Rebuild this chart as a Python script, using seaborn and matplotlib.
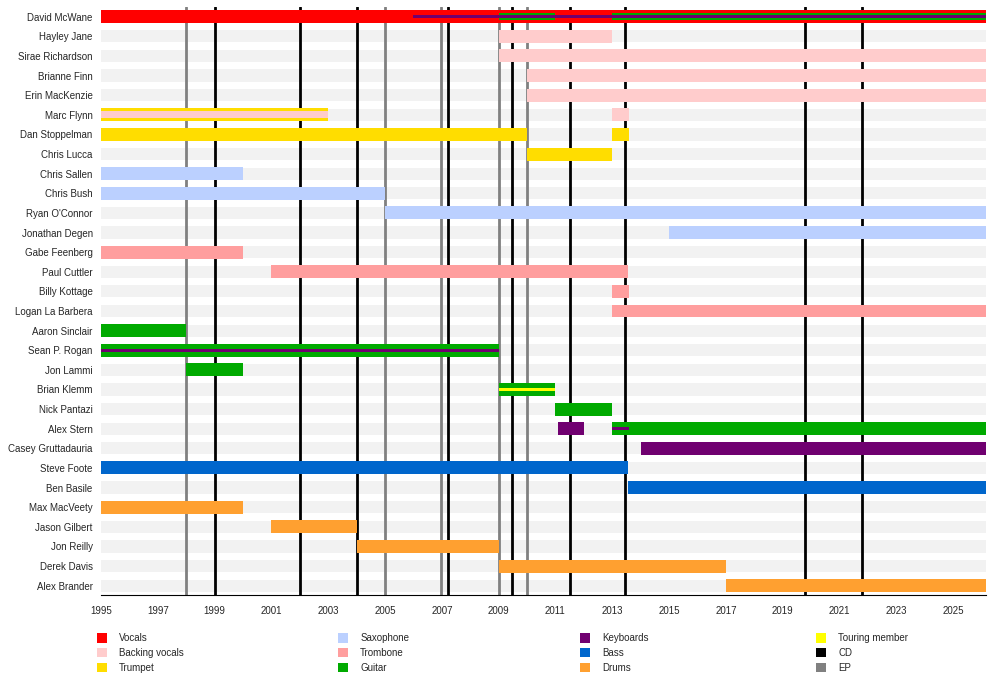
import matplotlib
matplotlib.use("Agg")
import matplotlib.pyplot as plt
import seaborn as sns
from matplotlib.patches import Patch

sns.set_style("white")
plt.rcParams['font.family'] = ['Liberation Sans', 'DejaVu Sans']

END = 2026.16

members = ["David McWane", "Hayley Jane", "Sirae Richardson", "Brianne Finn", "Erin MacKenzie",
           "Marc Flynn", "Dan Stoppelman", "Chris Lucca", "Chris Sallen", "Chris Bush",
           "Ryan O'Connor", "Jonathan Degen", "Gabe Feenberg", "Paul Cuttler", "Billy Kottage",
           "Logan La Barbera", "Aaron Sinclair", "Sean P. Rogan", "Jon Lammi", "Brian Klemm",
           "Nick Pantazi", "Alex Stern", "Casey Gruttadauria", "Steve Foote", "Ben Basile",
           "Max MacVeety", "Jason Gilbert", "Jon Reilly", "Derek Davis", "Alex Brander"]

# periods: member, role, start, end, layer (full / mid / thin)
bar_member = ["David McWane", "David McWane", "David McWane", "David McWane", "David McWane",
              "Hayley Jane", "Sirae Richardson", "Brianne Finn", "Erin MacKenzie",
              "Marc Flynn", "Marc Flynn", "Marc Flynn",
              "Dan Stoppelman", "Dan Stoppelman", "Chris Lucca",
              "Chris Sallen", "Chris Bush", "Ryan O'Connor", "Jonathan Degen",
              "Gabe Feenberg", "Paul Cuttler", "Billy Kottage", "Logan La Barbera",
              "Aaron Sinclair", "Sean P. Rogan", "Sean P. Rogan", "Jon Lammi",
              "Brian Klemm", "Brian Klemm", "Nick Pantazi",
              "Alex Stern", "Alex Stern", "Alex Stern", "Casey Gruttadauria",
              "Steve Foote", "Ben Basile",
              "Max MacVeety", "Jason Gilbert", "Jon Reilly", "Derek Davis", "Alex Brander"]
bar_role = ["Vocals", "Guitar", "Guitar", "Keyboards", "Keyboards",
            "Backing vocals", "Backing vocals", "Backing vocals", "Backing vocals",
            "Trumpet", "Backing vocals", "Backing vocals",
            "Trumpet", "Trumpet", "Trumpet",
            "Saxophone", "Saxophone", "Saxophone", "Saxophone",
            "Trombone", "Trombone", "Trombone", "Trombone",
            "Guitar", "Guitar", "Keyboards", "Guitar",
            "Guitar", "Touring member", "Guitar",
            "Keyboards", "Guitar", "Keyboards", "Keyboards",
            "Bass", "Bass",
            "Drums", "Drums", "Drums", "Drums", "Drums"]
bar_start = [1995, 2009, 2013, 2006, 2006,
             2009, 2009, 2010, 2010,
             1995, 1995, 2013,
             1995, 2013, 2010,
             1995, 1995, 2005, 2015,
             1995, 2001, 2013, 2013,
             1995, 1995, 1995, 1998,
             2009, 2009, 2011,
             2011.1, 2013, 2013, 2014,
             1995, 2013.55,
             1995, 2001, 2004, 2009, 2017]
bar_end = [END, 2011, END, 2009, END,
           2013, END, END, END,
           2003, 2003, 2013.6,
           2010, 2013.6, 2013,
           2000, 2005, END, END,
           2000, 2013.55, 2013.6, END,
           1998, 2009, 2009, 2000,
           2011, 2011, 2013,
           2012, END, 2013.6, END,
           2013.55, END,
           2000, 2004, 2009, 2017, END]
bar_layer = ["full", "mid", "mid", "thin", "thin",
             "full", "full", "full", "full",
             "full", "mid", "full",
             "full", "full", "full",
             "full", "full", "full", "full",
             "full", "full", "full", "full",
             "full", "full", "thin", "full",
             "full", "thin", "full",
             "full", "full", "thin", "full",
             "full", "full",
             "full", "full", "full", "full", "full"]

cd_years = [1999, 2002, 2004, 2007.2, 2009.47, 2011.5, 2013.45, 2019.8, 2021.8]
ep_years = [1998, 2005, 2006.97, 2009, 2010]

colors = {"Vocals": "#FF0000", "Backing vocals": "#FFCCCC", "Trumpet": "#FFDD00",
          "Saxophone": "#BBD0FF", "Trombone": "#FF9E9E", "Guitar": "#00AA00",
          "Keyboards": "#700070", "Bass": "#0066CC", "Drums": "#FFA030",
          "Touring member": "#FFFF00", "CD": "#000000", "EP": "#808080"}
heights = {"full": 0.66, "mid": 0.36, "thin": 0.16}

fig = plt.figure(figsize=(10, 6.9), dpi=100)
ax = fig.add_axes([0.101, 0.137, 0.885, 0.853])

ypos = {m: i for i, m in enumerate(members)}
# row stripes
ax.barh(range(len(members)), END - 1995, left=1995, height=0.62, color="#F2F2F2",
        linewidth=0, zorder=0)

for x in cd_years:
    ax.axvline(x, color=colors["CD"], lw=2, zorder=1)
for x in ep_years:
    ax.axvline(x, color=colors["EP"], lw=2, zorder=1)

order = {"full": 2, "mid": 3, "thin": 4}
for m, r, s, e, l in zip(bar_member, bar_role, bar_start, bar_end, bar_layer):
    ax.barh(ypos[m], e - s, left=s, height=heights[l], color=colors[r],
            linewidth=0, zorder=order[l])

ax.set_xlim(1995, END)
ax.set_ylim(len(members) - 0.5, -0.5)
ax.set_yticks(range(len(members)))
ax.set_yticklabels(members, fontsize=7)
ax.set_xticks(range(1995, 2026, 2))
ax.tick_params(axis='x', labelsize=7, length=4, color="black", direction="out")
ax.tick_params(axis='y', length=0, pad=6)
for s in ["top", "right"]:
    ax.spines[s].set_visible(False)
ax.spines["left"].set_visible(False)
ax.spines["bottom"].set_color("black")

labels = ["Vocals", "Backing vocals", "Trumpet", "Saxophone", "Trombone", "Guitar",
          "Keyboards", "Bass", "Drums", "Touring member", "CD", "EP"]
handles = [Patch(facecolor=colors[k], label=k, linewidth=0) for k in labels]
for i, x0 in enumerate([0.088, 0.329, 0.571, 0.807]):
    fig.legend(handles=handles[i * 3:(i + 1) * 3], loc="upper left",
               bbox_to_anchor=(x0, 0.095), frameon=False, fontsize=7,
               handlelength=1.1, handleheight=1.1, labelspacing=0.5, handletextpad=1.2)

fig.savefig("out.png", dpi=100)
